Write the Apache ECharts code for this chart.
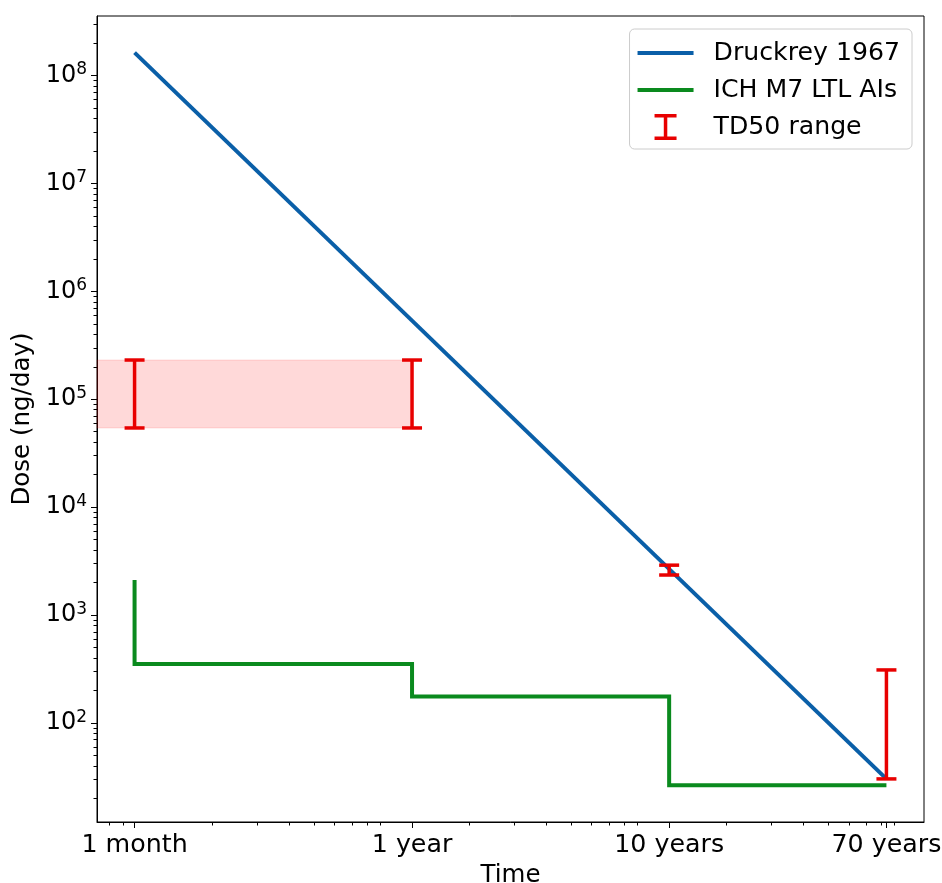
<!DOCTYPE html>
<html>
<head>
<meta charset="utf-8">
<title>Dose vs time</title>
<script src="https://cdn.jsdelivr.net/npm/echarts@6/dist/echarts.min.js"></script>
<style>
  html, body { margin: 0; padding: 0; background: #fff; }
  #chart { width: 942px; height: 883px; }
</style>
</head>
<body>
<div id="chart"></div>
<script>
/* === Data (time in months, dose in ng/day) === */
const TIME_TICKS = [1, 12, 120, 840];
const TIME_LABELS = ['1 month', '1 year', '10 years', '70 years'];
const TIME_MINOR = [0.8, 0.9, 2, 3, 4, 5, 6, 7, 8, 9, 20, 30, 40, 50, 60, 70, 80, 90, 200, 300, 400, 500, 600, 700, 800, 900];
const DOSE_TICKS = [1e2, 1e3, 1e4, 1e5, 1e6, 1e7, 1e8];
const MINOR_SUBS = [2, 3, 4, 5, 6, 7, 8, 9];
const MINOR_DECADES = [1e1, 1e2, 1e3, 1e4, 1e5, 1e6, 1e7, 1e8];

const druckreyTime = [1, 840];
const druckreyDose = [1.63e8, 30.3];

const ichTime = [1, 1, 12, 12, 120, 120, 840];
const ichDose = [2112, 352, 352, 176, 176, 26.4, 26.4];

const td50Time = [1, 12, 120, 840];
const td50Low = [54200, 54200, 2350, 30.3];
const td50High = [231000, 231000, 2900, 310];

// shaded TD50 band, from the left edge of the plot up to 1 year
const bandEnd = 12;
const bandLow = 54200;
const bandHigh = 231000;

/* === Axis ranges (log, with matplotlib-like margins) === */
const X_MIN = 0.7143, X_MAX = 1176;
const Y_MIN = 12.08, Y_MAX = 3.565e8;

/* === Style === */
const FONT = "'DejaVu Sans', sans-serif";
const FS = 24.5;
const BLUE = '#0a5fa8';
const GREEN = '#0a8a1e';
const RED = '#e80000';

const DOSE_MINOR = [];
MINOR_DECADES.forEach(d => MINOR_SUBS.forEach(s => {
  const v = s * d;
  if (v > Y_MIN && v < Y_MAX) DOSE_MINOR.push(v);
}));

const LINE_ICON = 'path://M0,0M56,26M0,11h56v4h-56z';
const BAR_ICON = 'path://M0,0M56,26M17,0h22v3.5h-9.25v19h9.25v3.5h-22v-3.5h9.25v-19h-9.25z';

function pairs(xs, ys) {
  return xs.map((x, i) => [x, ys[i]]);
}

function timeLabel(v) {
  const i = TIME_TICKS.findIndex(t => Math.abs(t - v) < t * 1e-6);
  return i >= 0 ? TIME_LABELS[i] : '';
}

function doseLabel(v) {
  return '10{sup|' + Math.round(Math.log10(v)) + '}';
}

const blackLine = { color: '#000', width: 1 };

function initChart() {
  const chart = echarts.init(document.getElementById('chart'));
  chart.setOption({
    animation: false,
    backgroundColor: '#fff',
    grid: {
      left: 97, right: 18, top: 16, bottom: 61,
      containLabel: false, outerBoundsMode: 'none',
      show: true, borderColor: '#000', borderWidth: 1, backgroundColor: 'transparent'
    },
    legend: {
      orient: 'vertical', right: 30, top: 29, align: 'left',
      itemWidth: 56, itemHeight: 26, itemGap: 11,
      padding: [11, 12, 9, 8],
      borderColor: '#cccccc', borderWidth: 1, borderRadius: 5,
      backgroundColor: 'rgba(255,255,255,0.8)',
      selectedMode: false,
      textStyle: { fontSize: 25.2, fontFamily: FONT, color: '#000', padding: [0, 0, 0, 15] },
      data: [
        { name: 'Druckrey 1967', icon: LINE_ICON },
        { name: 'ICH M7 LTL AIs', icon: LINE_ICON },
        { name: 'TD50 range', icon: BAR_ICON }
      ]
    },
    xAxis: [
      {
        type: 'log', logBase: 10, min: X_MIN, max: X_MAX, position: 'bottom',
        name: 'Time', nameLocation: 'middle', nameGap: 40,
        nameTextStyle: { fontSize: FS, fontFamily: FONT, color: '#000' },
        axisLine: { show: true, onZero: false, lineStyle: blackLine },
        axisTick: { show: true, customValues: TIME_TICKS, length: 6, lineStyle: blackLine },
        axisLabel: {
          customValues: TIME_TICKS, formatter: timeLabel,
          fontSize: 25.3, fontFamily: FONT, color: '#000', margin: 11
        },
        splitLine: { show: false }
      },
      {
        type: 'log', logBase: 10, min: X_MIN, max: X_MAX, position: 'bottom',
        axisLine: { show: false },
        axisTick: { show: true, customValues: TIME_MINOR, length: 3.5, lineStyle: blackLine },
        axisLabel: { show: false },
        splitLine: { show: false }
      }
    ],
    yAxis: [
      {
        type: 'log', logBase: 10, min: Y_MIN, max: Y_MAX, position: 'left',
        name: 'Dose (ng/day)', nameLocation: 'middle', nameGap: 60,
        nameTextStyle: { fontSize: FS, fontFamily: FONT, color: '#000' },
        axisLine: { show: true, onZero: false, lineStyle: blackLine },
        axisTick: { show: true, customValues: DOSE_TICKS, length: 6, lineStyle: blackLine },
        axisLabel: {
          customValues: DOSE_TICKS, formatter: doseLabel,
          fontSize: 24, fontFamily: FONT, color: '#000', margin: 10,
          rich: { sup: { fontSize: 17, fontFamily: FONT, color: '#000', padding: [0, 0, 11, 0] } }
        },
        splitLine: { show: false }
      },
      {
        type: 'log', logBase: 10, min: Y_MIN, max: Y_MAX, position: 'left',
        axisLine: { show: false },
        axisTick: { show: true, customValues: DOSE_MINOR, length: 3.5, lineStyle: blackLine },
        axisLabel: { show: false },
        splitLine: { show: false }
      }
    ],
    series: [
      {
        type: 'custom', silent: true, z: 1,
        data: [[bandEnd, bandLow, bandHigh]],
        renderItem: (params, api) => {
          const left = params.coordSys.x;
          const top = api.coord([api.value(0), api.value(2)]);
          const bottom = api.coord([api.value(0), api.value(1)]);
          return {
            type: 'rect',
            shape: { x: left, y: top[1], width: top[0] - left, height: bottom[1] - top[1] },
            style: { fill: 'rgba(255,0,0,0.15)', stroke: 'rgba(255,0,0,0.12)', lineWidth: 1 }
          };
        }
      },
      {
        name: 'Druckrey 1967', type: 'line', z: 3,
        data: pairs(druckreyTime, druckreyDose),
        symbol: 'none', showSymbol: false,
        lineStyle: { color: BLUE, width: 4 }, itemStyle: { color: BLUE }
      },
      {
        name: 'ICH M7 LTL AIs', type: 'line', z: 3,
        data: pairs(ichTime, ichDose),
        symbol: 'none', showSymbol: false,
        lineStyle: { color: GREEN, width: 4, join: 'miter' }, itemStyle: { color: GREEN }
      },
      {
        name: 'TD50 range', type: 'custom', z: 4,
        itemStyle: { color: RED },
        data: td50Time.map((t, i) => [t, td50Low[i], td50High[i]]),
        renderItem: (params, api) => {
          const hi = api.coord([api.value(0), api.value(2)]);
          const lo = api.coord([api.value(0), api.value(1)]);
          const half = 10;
          const st = { stroke: RED, lineWidth: 3.5 };
          return {
            type: 'group',
            children: [
              { type: 'line', shape: { x1: hi[0], y1: hi[1], x2: lo[0], y2: lo[1] }, style: st },
              { type: 'line', shape: { x1: hi[0] - half, y1: hi[1], x2: hi[0] + half, y2: hi[1] }, style: st },
              { type: 'line', shape: { x1: lo[0] - half, y1: lo[1], x2: lo[0] + half, y2: lo[1] }, style: st }
            ]
          };
        }
      }
    ]
  });
}

initChart();
</script>
</body>
</html>
